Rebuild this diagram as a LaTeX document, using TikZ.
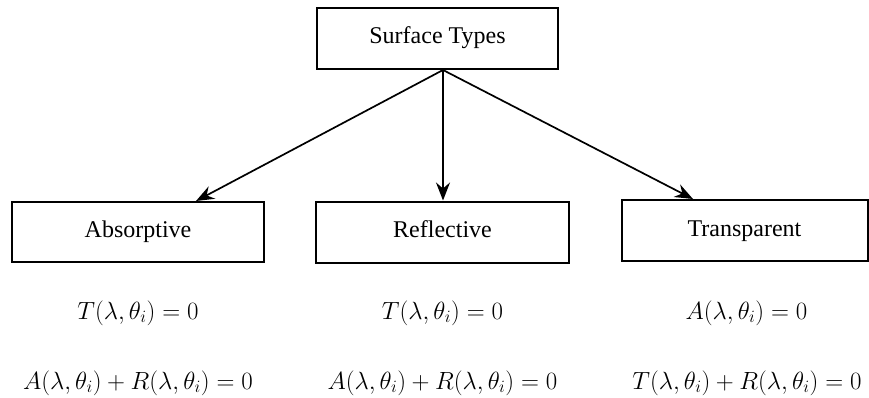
\documentclass[tikz,border=0pt]{standalone}
\usepackage{fontspec}
\setmainfont{Liberation Serif}
\usetikzlibrary{arrows.meta}
\tikzset{
  box/.style={draw, line width=2pt, inner sep=0pt, font=\fontsize{24}{28}\selectfont, text height=16pt, text depth=5pt},
  eq/.style={inner sep=0pt, font=\fontsize{24.3}{28}\selectfont},
  link/.style={line width=1.7pt, -{Stealth[length=18pt,width=14pt,inset=6pt]}}
}
\begin{document}
\begin{tikzpicture}[x=1pt,y=-1pt]
\useasboundingbox (0,0) rectangle (869,398);
\node[box, minimum width=241pt, minimum height=61pt] (top) at (437.5,38.5) {Surface Types};
\node[box, minimum width=252pt, minimum height=60pt] (abs) at (138,232) {Absorptive};
\node[box, minimum width=253pt, minimum height=61pt] (ref) at (442.5,232) {Reflective};
\node[box, minimum width=246pt, minimum height=61pt] (tra) at (744.5,230.5) {Transparent};
\draw[link] ([xshift=5.5pt]top.south) -- ([xshift=58pt]abs.north);
\draw[link] ([xshift=5.5pt]top.south) -- ([xshift=0.5pt]ref.north);
\draw[link] ([xshift=5.5pt]top.south) -- ([xshift=-51.5pt]tra.north);
\node[eq] (abs1) at (138,313) {$T(\lambda,\theta_i)=0$};
\node[eq] (abs2) at (138,383) {$A(\lambda,\theta_i)+R(\lambda,\theta_i)=0$};
\node[eq] (ref1) at (442.5,313) {$T(\lambda,\theta_i)=0$};
\node[eq] (ref2) at (442.5,383) {$A(\lambda,\theta_i)+R(\lambda,\theta_i)=0$};
\node[eq] (tra1) at (746.5,313) {$A(\lambda,\theta_i)=0$};
\node[eq] (tra2) at (747,383) {$T(\lambda,\theta_i)+R(\lambda,\theta_i)=0$};
\end{tikzpicture}
\end{document}
